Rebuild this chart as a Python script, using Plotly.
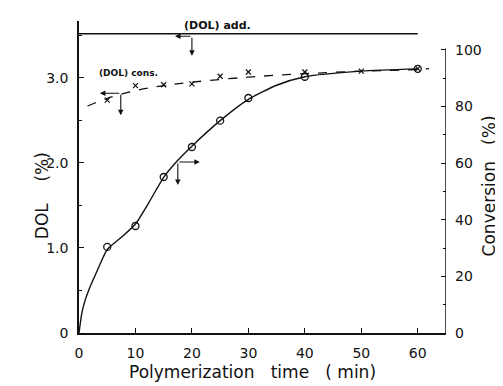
import plotly.graph_objects as go

# ---- data ----
time_pts = [5, 10, 15, 20, 25, 30, 40, 60]
conversion_pts = [30.4, 37.8, 55.1, 65.7, 75.0, 83.0, 90.5, 93.3]          # %, right axis

dol_time = [5, 10, 15, 20, 25, 30, 40, 50, 60]
dol_cons = [2.74, 2.91, 2.92, 2.93, 3.02, 3.07, 3.07, 3.08, 3.11]          # %, left axis

conv_curve_t = [0, 0.5, 1, 2, 3, 4, 5, 7.5, 10, 12.5, 15, 17.5, 20, 25, 30, 35, 40, 50, 60]
conv_curve_v = [0, 7, 11, 16.5, 21, 25.5, 29.5, 33.8, 38.5, 46.5, 55, 61, 66, 75, 82.5, 87.5, 90.5, 92.5, 93.3]

dol_curve_t = [1.5, 5, 10, 15, 20, 30, 40, 50, 60, 62]
dol_curve_v = [2.67, 2.76, 2.85, 2.91, 2.95, 3.01, 3.05, 3.08, 3.10, 3.11]

dol_add_level = 3.52
x_ticks = [0, 10, 20, 30, 40, 50, 60]
left_ticks = [0, 1, 2, 3]
left_labels = ["0", "1.0", "2.0", "3.0"]
right_ticks = [0, 20, 40, 60, 80, 100]

FONT = "DejaVu Sans, Verdana, sans-serif"
BLK = "#111111"
SP = "\u00a0"

fig = go.Figure()

fig.add_trace(go.Scatter(x=conv_curve_t, y=conv_curve_v, yaxis="y2", mode="lines",
                         line=dict(color=BLK, width=1.4, shape="spline", smoothing=0.6),
                         showlegend=False, hoverinfo="skip"))
fig.add_trace(go.Scatter(x=time_pts, y=conversion_pts, yaxis="y2", mode="markers",
                         marker=dict(symbol="circle-open", size=7, color=BLK, line=dict(width=1.3)),
                         showlegend=False))
fig.add_trace(go.Scatter(x=dol_curve_t, y=dol_curve_v, mode="lines",
                         line=dict(color=BLK, width=1.3, dash="dash", shape="spline"),
                         showlegend=False, hoverinfo="skip"))
fig.add_trace(go.Scatter(x=dol_time, y=dol_cons, mode="markers",
                         marker=dict(symbol="x-thin", size=5, color=BLK, line=dict(width=1.2, color=BLK)),
                         showlegend=False))
# (DOL) add. horizontal line
fig.add_trace(go.Scatter(x=[0, 60], y=[dol_add_level, dol_add_level], mode="lines",
                         line=dict(color=BLK, width=1.3), showlegend=False, hoverinfo="skip"))
# right axis line (0-100 only)
fig.add_trace(go.Scatter(x=[65, 65], y=[0, 100.5], yaxis="y2", mode="lines",
                         line=dict(color=BLK, width=1.5), showlegend=False, hoverinfo="skip"))

def arrow(x, y, ax, ay, yref="y"):
    fig.add_annotation(x=x, y=y, ax=ax, ay=ay, xref="x", yref=yref, axref="x", ayref=yref,
                       text="", showarrow=True, arrowhead=2, arrowsize=1, arrowwidth=1.1,
                       arrowcolor=BLK)

# (DOL) add. arrows
arrow(17, 3.49, 20, 3.49)
arrow(20, 3.26, 20, 3.49)
# (DOL) cons. arrows
arrow(3.7, 2.82, 7.4, 2.82)
arrow(7.4, 2.56, 7.4, 2.82)
# conversion arrows
arrow(21.4, 60.4, 17.5, 60.4, "y2")
arrow(17.5, 52.3, 17.5, 60.4, "y2")

fig.add_annotation(x=24.5, y=3.62, text="<b>(DOL) add.</b>", showarrow=False,
                   font=dict(family=FONT, size=11, color=BLK))
fig.add_annotation(x=8.8, y=3.06, text="<b>(DOL) cons.</b>", showarrow=False,
                   font=dict(family=FONT, size=9, color=BLK))

# axis titles
fig.add_annotation(xref="paper", yref="paper", x=0.474, y=-0.165,
                   text="Polymerization" + SP * 3 + "time" + SP * 3 + "(" + SP + "min)",
                   showarrow=False, font=dict(family=FONT, size=17, color=BLK))
fig.add_annotation(xref="paper", yref="paper", x=-0.135, y=0.44, textangle=-90,
                   text="DOL" + SP * 4 + "(%)", showarrow=False,
                   font=dict(family=FONT, size=17, color=BLK))
fig.add_annotation(xref="paper", yref="paper", x=1.15, y=0.47, textangle=-90,
                   text="Conversion" + SP * 3 + "(%)", showarrow=False,
                   font=dict(family=FONT, size=17, color=BLK))

fig.update_layout(
    width=503, height=386,
    margin=dict(l=71, r=65, t=13, b=61),
    paper_bgcolor="white", plot_bgcolor="white",
    font=dict(family=FONT, size=14, color=BLK),
    xaxis=dict(range=[0, 65], tickvals=x_ticks, ticks="inside", ticklen=5, tickwidth=1.2,
               tickcolor=BLK, showline=True, linecolor=BLK, linewidth=1.5, showgrid=False,
               zeroline=False, ticklabelstandoff=6),
    yaxis=dict(range=[0, 3.67], tickvals=left_ticks, ticktext=left_labels, ticks="inside",
               ticklen=5, tickwidth=1.2, tickcolor=BLK, showline=True, linecolor=BLK,
               linewidth=1.5, showgrid=False, zeroline=False, ticklabelstandoff=6,
               minor=dict(tickvals=[0.5, 1.5, 2.5, 3.5], ticks="inside", ticklen=3,
                          tickcolor=BLK)),
    yaxis2=dict(range=[0, 110.2], overlaying="y", side="right", tickvals=right_ticks,
                ticks="inside", ticklen=5, tickwidth=1.2, tickcolor=BLK, showline=False,
                showgrid=False, zeroline=False, ticklabelstandoff=8,
                minor=dict(tickvals=[10, 30, 50, 70, 90], ticks="inside", ticklen=3,
                           tickcolor=BLK)),
)

fig.write_html("out.html")
